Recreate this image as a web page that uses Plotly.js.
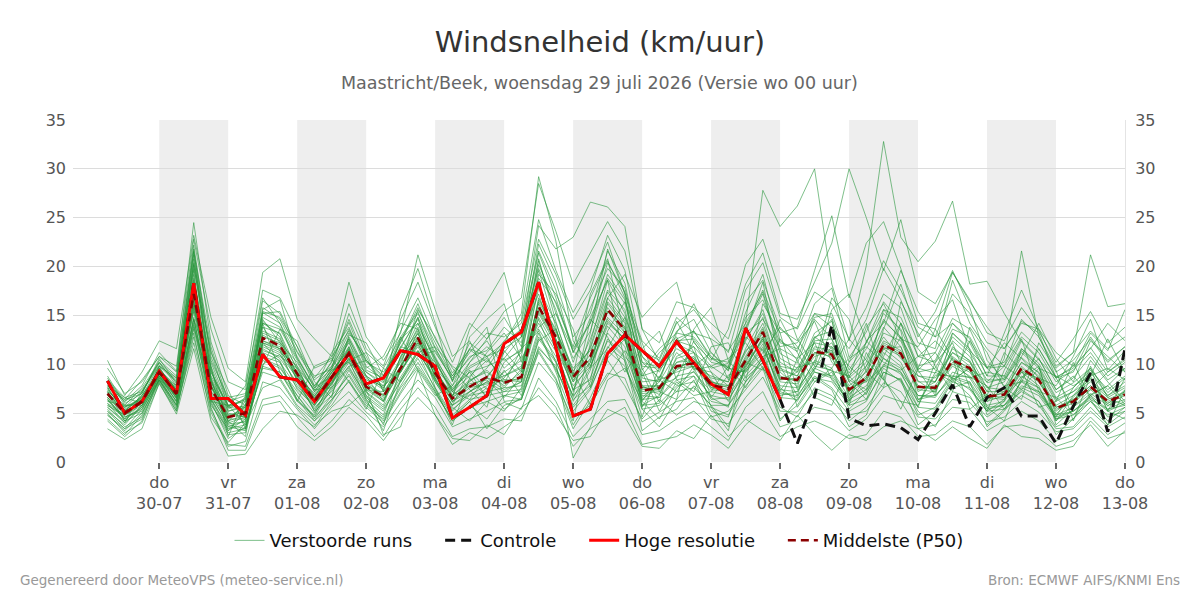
<!DOCTYPE html>
<html>
<head>
<meta charset="utf-8">
<script src="https://cdn.plot.ly/plotly-3.0.1.min.js"></script>
<style>html,body{margin:0;padding:0;background:#fff;}#chart{width:1200px;height:600px;}</style>
</head>
<body>
<div id="chart"></div>
<script>
// ---- data (6-hourly, first value 29-07 06:00) ----
const startTime = '2026-07-29 06:00';
const stepHours = 6;

const hres = [8.3,5.0,6.2,9.3,7.0,18.3,6.5,6.5,4.8,11.0, 8.7,8.4,6.2,8.7,11.1,8.0,8.6,11.4,11.0,9.8, 4.5,5.6,6.8,12.1,13.3,18.4,11.7,4.7,5.4,11.1, 13.0,11.4,9.8,12.3,10.1,8.0,6.9,13.7,10.4,6.4];

const controle = [8.3,5.0,6.2,9.3,7.0,18.3,6.5,6.5,4.8,11.0, 8.7,8.4,6.2,8.7,11.1,8.0,8.6,11.4,11.0,9.8, 4.5,5.6,6.8,12.1,13.3,18.4,11.7,4.7,5.4,11.1, 13.0,11.4,9.8,12.3,10.1,8.0,6.9,13.7,10.4,6.4, 1.9,6.7,14.0,4.5,3.7,3.9,3.5,2.3,5.0,7.9, 3.6,6.6,7.6,4.7,4.7,1.9,5.7,9.1,3.1,11.6];

const mediaan = [7.0,5.0,6.2,9.2,7.0,17.2,7.5,4.6,5.0,12.7, 11.9,9.0,6.2,8.7,11.1,7.7,6.7,9.6,12.7,9.1, 6.5,7.7,8.7,8.1,8.7,15.9,12.8,8.7,10.8,15.6, 13.5,7.3,7.6,9.8,10.1,7.9,7.5,10.4,13.3,8.6, 8.4,11.3,11.0,7.4,8.6,12.0,11.1,7.7,7.6,10.4, 9.6,6.7,6.9,9.6,8.4,5.5,6.2,7.7,6.2,6.9];

const runs = [
[7.4,5.3,6.5,9.6,7.3,18.8,8.2,4.8,5.2,13.4, 12.6,9.6,6.4,9.1,11.8,8.2,6.9,10.4,13.6,9.8, 6.1,8.3,9.4,7.6,9.5,17.8,14.2,9.3,11.6,16.8, 14.4,7.8,6.9,10.6,11.2,8.4,6.8,11.6,14.8,9.2, 7.7,12.4,12.6,6.8,9.4,13.2,12.4,8.3,7.1,11.8, 10.3,6.2,7.6,10.7,9.1,4.9,6.6,8.6,5.7,7.4],
[6.3,4.4,5.6,8.7,6.5,15.4,6.8,3.9,4.1,11.6, 10.6,8.1,5.4,7.6,10.2,7.1,5.6,8.7,11.4,8.4, 5.8,6.9,7.8,9.2,10.4,14.2,11.3,6.6,9.7,13.9, 11.8,6.2,8.8,7.9,9.3,6.6,8.9,9.4,12.1,7.3, 9.7,10.2,9.3,8.8,6.9,11.2,9.8,6.1,8.9,8.8, 8.7,7.8,5.4,8.3,7.2,6.6,4.8,6.9,7.8,5.9],
[8.1,6.2,7.8,11.2,9.3,24.5,12.3,6.8,5.8,15.3, 14.2,10.8,7.6,10.3,14.3,9.8,8.4,12.3,16.2,11.7, 8.3,10.8,11.4,13.8,12.2,22.3,18.4,12.8,15.2,21.6, 18.3,10.2,9.7,13.4,14.6,11.2,9.3,15.3,19.2,12.4, 11.3,16.2,17.8,10.7,13.3,17.2,15.8,10.8,11.2,14.7, 13.6,9.7,10.2,13.3,11.6,8.7,9.6,11.7,9.2,10.6],
[5.4,3.6,4.6,8.3,5.6,12.2,5.1,1.6,2.1,8.2, 7.6,5.4,3.4,5.6,7.2,5.1,3.6,6.1,8.4,6.6, 3.6,4.4,5.2,6.1,5.4,10.2,8.1,3.4,6.2,9.1, 8.6,4.1,5.1,6.2,6.6,4.4,3.9,6.6,8.7,5.2, 5.1,7.2,6.4,4.2,5.6,8.1,7.2,4.6,4.4,6.4, 6.1,4.1,4.6,6.2,5.1,3.1,3.4,5.2,3.6,4.6],
[7.1,5.1,6.1,9.4,7.4,18.1,9.6,4.1,6.2,14.2, 13.1,8.6,5.2,8.1,10.6,9.2,8.1,11.2,13.1,9.6, 7.6,9.2,6.6,10.2,11.6,20.6,15.2,10.6,13.4,19.2, 16.6,9.6,6.1,12.1,11.2,9.6,10.1,13.6,17.2,11.1, 10.1,14.6,12.6,9.1,11.6,15.2,13.6,9.6,9.1,13.2, 11.6,8.1,8.6,11.6,10.1,7.1,8.1,9.6,7.1,8.6],
[6.8,5.6,7.2,10.1,8.2,21.5,10.8,6.2,6.8,16.5, 15.2,11.3,8.8,9.5,13.2,10.8,7.2,9.8,15.6,12.8, 9.1,11.5,10.2,12.4,14.6,24.8,19.6,15.3,18.4,22.5, 17.2,12.4,10.6,14.8,13.2,12.6,11.4,14.2,27.8,24.1, 26.2,30.0,18.2,12.4,20.1,32.8,23.0,20.5,22.6,26.7, 18.2,18.5,15.2,12.3,10.4,8.6,9.8,13.2,11.4,15.6],
[7.6,6.4,8.4,10.8,9.8,22.8,13.6,8.2,7.4,17.6, 16.8,13.2,9.6,10.4,16.2,11.6,9.8,14.6,18.4,13.8, 10.2,14.2,12.6,15.4,16.8,28.5,23.6,18.2,21.4,24.6, 21.6,13.6,12.2,16.4,15.8,14.2,12.6,18.2,21.4,15.2, 14.6,18.4,22.4,30.0,25.0,19.6,24.8,17.4,16.2,19.4, 16.6,13.2,12.4,15.8,13.4,10.2,12.6,15.4,12.2,13.8],
[6.6,4.8,6.4,9.0,6.8,16.2,8.8,5.8,5.6,12.2, 11.4,7.4,5.8,8.4,12.6,8.8,7.6,10.2,13.8,10.6, 6.8,8.2,9.6,12.2,15.2,29.2,22.6,12.4,9.8,14.2, 12.6,6.4,7.8,8.6,12.4,9.2,6.2,9.6,12.8,7.6, 6.2,9.4,13.6,8.2,6.4,10.8,14.2,9.4,6.8,8.6, 7.4,5.2,6.4,9.2,7.8,4.2,5.8,10.4,8.2,6.2],
[4.8,3.2,5.0,8.4,6.0,13.6,6.2,2.4,3.6,9.6, 9.2,6.8,4.6,6.4,9.0,6.2,4.2,7.2,10.2,7.2, 4.2,5.8,4.4,6.8,7.2,11.6,9.8,5.2,7.4,11.8, 10.4,3.2,4.6,5.4,7.8,5.8,3.6,8.2,10.6,4.4, 5.8,8.6,7.4,3.6,4.8,9.2,8.4,3.8,5.2,7.6, 8.2,3.6,5.2,7.4,6.2,2.8,4.4,6.8,4.6,5.2],
[10.4,6.8,9.2,12.4,11.6,23.2,14.8,9.6,8.2,19.4, 20.8,14.6,12.6,10.8,18.4,12.8,10.4,13.2,21.2,15.6, 10.8,12.4,8.6,11.2,13.4,19.8,15.6,10.2,14.8,18.6, 15.2,8.8,9.4,11.6,10.6,8.6,8.2,12.4,15.6,10.2, 9.2,13.2,14.4,8.6,10.2,14.6,12.6,8.8,8.2,12.4, 10.8,7.6,8.2,11.2,9.6,6.4,7.2,9.2,6.8,8.2],
[3.4,2.3,3.4,8.1,4.9,11.6,4.2,0.6,0.8,3.4, 5.2,4.8,3.6,6.2,9.4,6.4,3.2,8.4,11.2,7.4, 4.6,6.2,7.6,5.4,6.6,12.6,10.2,0.4,3.6,8.4, 9.6,6.2,4.4,7.6,8.8,5.2,4.6,9.8,12.4,6.8, 7.2,10.4,9.6,5.4,7.2,11.6,10.2,6.4,7.4,9.8, 8.8,6.2,6.8,8.4,7.6,4.4,5.2,6.4,5.4,6.2],
[5.8,4.6,5.2,8.8,6.2,14.6,6.6,3.2,4.4,10.8, 10.2,7.6,5.6,7.2,9.6,6.8,5.4,8.2,11.2,8.6, 5.2,7.2,8.2,8.8,9.6,16.2,12.2,7.4,10.2,15.4, 13.8,7.2,7.4,9.6,10.4,7.4,7.2,10.2,13.4,8.8, 8.2,11.6,10.6,7.6,8.2,12.2,11.2,7.8,7.4,10.2, 9.4,6.8,6.6,9.8,8.2,5.6,6.4,7.8,6.4,7.2],
[7.8,6.2,7.4,9.9,8.4,20.4,11.4,5.6,6.4,15.8, 14.6,11.2,8.4,9.8,13.6,10.2,9.2,11.6,14.8,11.2, 8.6,10.6,12.4,9.6,11.2,18.8,16.4,11.8,16.8,20.6, 16.8,9.4,11.6,13.2,12.8,10.6,9.6,16.4,18.6,13.6, 12.4,15.2,13.8,11.6,14.6,19.8,16.6,12.2,11.6,18.6, 14.2,11.6,9.8,14.6,12.8,9.2,10.4,12.6,10.2,11.8],
[4.2,2.6,4.2,8.6,5.8,14.2,5.4,1.8,1.6,6.4, 6.8,4.6,2.6,4.2,6.4,4.8,2.6,5.4,7.6,5.6, 2.6,3.4,3.6,4.4,4.2,8.6,6.2,2.6,4.4,6.2, 6.4,2.8,3.2,4.4,5.2,3.6,2.2,5.6,7.2,3.6, 4.2,5.6,5.2,3.2,4.4,6.8,6.2,3.4,3.8,5.6, 5.4,3.2,4.2,5.2,4.2,2.2,2.8,4.6,2.8,4.0],
[8.6,5.8,7.6,10.2,7.8,19.2,7.2,5.6,5.4,14.6, 12.2,10.2,7.2,9.4,11.4,8.6,7.4,12.6,14.2,10.4, 7.2,9.6,10.6,8.4,8.2,16.6,13.6,8.6,12.6,17.6, 15.6,8.6,8.2,11.2,9.6,9.2,7.8,11.2,14.2,9.6, 8.8,12.8,11.6,7.2,9.8,13.8,11.8,7.2,8.2,11.2, 9.8,7.2,7.2,10.2,8.8,5.8,6.8,8.2,6.6,7.6],
[6.6,5.2,6.8,9.2,7.6,17.6,7.8,4.4,5.8,12.4, 11.8,9.2,6.8,9.2,10.8,8.8,6.2,10.8,12.8,9.4, 6.6,12.8,14.6,16.2,10.2,14.6,10.2,6.8,14.6,12.8, 9.2,11.6,13.4,8.4,7.2,11.8,12.2,8.6,10.2,14.6, 11.2,8.2,9.6,12.6,10.4,8.4,14.2,11.6,9.4,8.6, 12.4,9.6,7.8,8.2,11.6,8.6,5.6,7.4,9.2,10.4],
[5.2,3.8,5.8,8.9,6.6,16.4,6.4,3.6,3.2,11.2, 10.4,6.2,4.8,8.6,10.4,6.4,4.8,9.4,12.2,8.2, 5.6,4.2,6.2,5.2,7.6,13.2,9.2,4.6,5.8,10.6, 12.6,5.4,3.6,6.4,8.4,4.6,5.2,7.4,9.6,4.2, 6.4,8.8,7.6,5.2,6.2,9.6,8.2,5.2,3.6,7.2, 6.6,4.6,5.8,7.2,6.2,3.6,4.4,6.2,4.2,5.6],
[7.2,4.2,6.2,9.6,6.4,16.8,8.6,3.2,5.2,12.8, 12.2,8.4,5.2,6.8,11.6,7.4,7.2,9.2,12.4,8.8, 7.2,6.4,8.8,10.6,8.6,18.4,12.6,7.4,8.4,16.4, 14.2,5.6,8.6,12.6,9.6,6.4,6.6,12.8,11.4,6.2, 10.6,12.2,8.4,6.2,12.4,10.6,9.2,5.6,10.2,12.2, 7.6,5.2,9.4,12.6,7.2,4.6,7.6,9.6,5.2,8.6],
[7.8,5.6,6.6,9.2,7.4,20.8,9.8,5.4,6.6,14.8, 13.8,10.6,7.6,8.8,12.8,9.4,8.6,12.8,15.4,10.8, 7.4,9.8,10.8,11.6,12.8,21.4,16.8,11.2,14.2,20.4, 17.4,10.2,8.6,12.4,12.6,10.2,9.8,14.2,17.4,11.6, 10.6,15.2,14.8,9.4,12.2,16.4,14.2,9.8,10.4,14.2, 12.6,8.8,8.8,12.4,10.6,7.4,8.6,10.8,8.4,9.6],
[6.4,4.6,5.4,8.6,6.2,14.8,5.8,3.4,3.8,10.4, 9.6,7.2,5.0,7.4,9.8,6.6,5.2,8.4,11.4,8.2, 5.4,6.8,7.2,7.6,7.8,13.6,10.8,6.8,8.6,13.2, 11.2,6.4,6.6,8.4,8.8,6.8,6.4,9.2,11.6,7.8, 7.6,9.8,9.4,6.6,7.8,10.6,9.6,6.8,6.6,9.2, 8.6,5.8,6.2,8.8,7.6,4.8,5.6,7.0,5.8,6.4],
[6.2,5.8,6.0,9.0,7.0,17.8,8.4,5.0,4.6,12.0, 11.2,9.8,6.0,8.0,11.4,8.0,6.6,9.8,12.6,9.2, 6.6,8.0,8.4,6.6,8.8,15.6,12.4,8.2,10.2,15.8, 13.6,7.6,7.8,10.2,10.8,8.2,7.8,10.6,13.6,8.4, 9.2,11.0,12.2,8.4,7.4,13.6,18.2,12.8,15.4,19.6, 15.8,10.4,8.4,10.8,14.2,10.6,8.2,12.4,10.8,9.2],
[7.6,5.0,6.4,9.6,7.4,18.4,7.6,4.6,5.2,13.2, 12.4,9.0,6.4,9.2,11.6,7.8,6.8,9.8,13.2,9.4, 6.8,8.4,9.2,7.8,9.2,16.4,13.2,8.8,11.0,16.2, 13.8,7.6,7.4,10.2,10.4,8.2,7.6,10.8,13.8,9.4, 8.8,11.8,11.4,7.8,9.2,12.4,11.4,8.2,8.2,11.6, 10.4,7.2,10.6,21.6,12.8,9.6,11.2,21.2,15.9,16.2],
[5.6,4.0,5.6,8.8,6.6,15.8,7.0,4.2,4.8,11.8, 11.0,8.6,6.6,8.4,10.6,7.6,6.4,9.2,12.0,9.0, 6.2,7.6,8.0,8.4,8.4,15.2,12.0,9.0,10.4,14.8, 13.0,7.0,7.2,9.6,9.8,7.6,7.2,10.0,12.6,8.2, 8.0,11.2,10.8,7.0,8.4,11.8,10.8,7.6,7.6,10.0, 9.2,6.6,6.4,9.4,8.2,5.4,6.0,7.6,6.0,6.8],
[6.0,4.8,5.8,8.4,5.4,13.2,4.6,2.0,4.0,9.2, 8.6,5.8,4.2,5.8,8.4,5.6,4.0,7.0,9.6,7.0, 4.4,6.2,3.4,5.8,6.4,11.4,8.6,3.8,6.6,10.4, 7.8,4.4,6.4,4.8,6.2,5.6,4.8,7.8,9.8,5.6, 4.6,7.6,6.8,4.8,5.2,7.6,8.6,4.8,5.6,8.4, 6.8,3.8,5.4,6.8,5.8,3.4,3.6,5.6,3.8,5.2],
[8.2,6.4,7.0,10.4,8.8,22.2,10.4,6.6,7.0,15.4, 14.8,11.8,8.6,10.8,13.4,10.4,8.8,12.2,15.8,12.2, 8.8,11.2,13.2,12.8,14.2,22.8,19.2,14.6,17.6,23.2, 19.6,11.4,10.4,14.2,15.6,13.2,11.2,17.6,20.4,14.8, 13.6,17.4,16.2,12.6,15.8,20.6,17.6,13.8,12.8,17.2, 15.2,12.2,11.6,14.2,13.6,9.8,11.2,13.4,11.6,12.8],
[5.0,3.0,4.0,8.0,5.2,12.8,5.6,1.2,1.2,5.8, 6.2,3.6,2.2,3.6,5.6,4.2,2.2,4.6,6.6,4.8, 1.8,3.0,2.4,3.6,4.8,7.6,5.6,1.6,3.4,4.6, 5.6,1.8,2.2,2.6,3.8,2.8,1.4,3.8,5.4,2.6, 3.6,4.2,3.4,2.4,2.8,5.2,4.6,2.6,2.8,4.2, 3.6,1.8,3.6,3.8,3.2,1.6,2.2,3.8,1.6,3.2],
[6.8,5.2,6.2,9.4,7.2,17.4,7.8,4.6,5.6,13.0, 12.0,8.8,6.2,8.8,11.4,8.0,6.8,9.6,12.8,9.2, 6.6,7.8,8.6,8.2,8.6,15.8,12.6,8.4,10.6,15.4, 13.2,7.4,7.6,9.8,10.2,7.8,7.4,10.4,13.2,8.6, 8.4,11.2,11.2,7.4,8.6,12.0,11.0,7.6,7.8,10.6, 9.6,6.8,7.0,9.6,8.4,5.6,6.2,7.8,6.2,7.0],
[7.2,4.8,6.0,9.0,6.8,16.6,6.0,2.8,3.0,10.0, 11.0,7.8,5.8,8.0,10.4,11.2,9.6,8.2,10.8,11.4, 8.4,12.2,10.8,8.0,11.6,13.4,9.4,6.4,7.8,12.6, 10.8,8.8,11.2,12.8,9.4,9.8,10.6,12.2,9.6,7.2, 6.6,9.6,11.8,9.8,8.2,9.8,12.8,9.4,11.2,8.4, 9.6,8.2,9.8,8.6,10.6,7.4,8.8,6.8,7.8,9.6],
[7.4,5.4,6.6,9.2,7.2,18.0,8.6,5.2,5.8,13.8, 13.2,9.4,6.6,9.6,12.2,8.8,7.6,10.6,14.2,10.2, 7.4,9.2,9.8,10.6,12.8,24.2,21.8,23.0,26.6,26.1, 24.1,13.6,10.2,12.4,11.8,9.8,8.6,12.6,15.2,10.6, 9.6,12.8,13.4,8.8,10.6,14.4,12.8,9.2,9.6,12.8, 11.2,8.4,8.4,11.4,9.8,6.6,7.6,9.4,7.4,8.8],
[5.6,4.2,5.0,8.4,5.8,14.0,6.4,3.0,3.4,10.6, 9.8,6.8,4.4,6.8,8.8,6.0,4.6,7.8,10.6,7.6, 4.8,6.4,6.8,7.2,7.4,12.8,10.4,5.8,8.2,12.4, 10.6,5.8,6.0,7.8,8.2,6.2,5.8,8.8,10.8,7.0, 6.8,9.2,8.6,6.0,7.0,10.0,9.0,6.2,6.0,8.6, 8.0,5.4,5.8,8.2,7.0,4.6,5.2,6.6,5.2,6.0],
[6.0,4.0,7.2,9.8,8.6,19.8,11.2,7.4,3.4,9.8, 13.6,12.4,8.2,6.6,13.0,12.2,8.8,13.4,16.8,12.6, 9.6,7.4,5.6,11.4,9.2,19.2,17.2,13.6,7.6,13.4, 16.4,12.2,7.2,6.4,13.6,15.8,10.4,8.2,16.2,13.2, 7.4,10.2,16.8,14.6,9.2,7.6,16.4,13.2,9.8,7.2, 13.8,11.2,7.6,6.4,12.2,9.4,4.2,8.8,12.6,9.2],
[7.8,6.6,6.0,8.8,6.2,14.6,9.8,2.6,6.8,14.2, 9.2,6.2,9.8,10.6,8.2,5.4,9.6,12.8,9.4,6.8, 7.8,11.6,13.8,6.2,6.4,11.2,8.4,4.2,12.2,18.6, 10.2,4.6,9.8,14.4,11.2,5.6,3.2,10.2,9.4,12.6, 10.4,6.6,5.8,10.2,14.2,8.6,5.4,9.6,13.6,10.6, 5.4,6.8,11.2,9.4,5.6,6.2,10.2,6.4,3.8,7.4],
[9.6,7.0,8.2,10.8,9.2,21.8,8.4,3.6,4.2,15.6, 16.6,10.6,7.8,9.6,15.2,11.2,7.2,15.4,19.8,14.2, 8.2,13.6,16.4,19.4,12.8,17.2,11.6,6.2,9.4,16.8, 19.2,14.8,16.8,18.4,12.2,10.4,13.6,20.2,22.8,17.4, 12.6,9.8,15.6,17.2,12.4,14.2,19.6,15.4,12.8,14.2, 12.2,8.8,13.2,17.6,13.6,11.2,9.8,11.6,14.2,12.4],
[4.4,2.8,4.8,8.5,6.8,15.6,9.2,5.8,3.8,7.6, 8.4,5.6,3.8,5.2,5.8,7.4,2.8,3.6,9.4,4.8, 2.4,2.2,3.8,2.8,5.6,6.8,4.8,2.2,2.6,5.4, 4.6,1.6,1.4,3.2,2.4,4.8,2.6,4.4,3.2,2.2, 4.8,2.8,1.2,2.8,2.2,3.6,4.2,3.4,2.2,3.6, 2.4,1.4,3.8,2.6,2.4,1.2,1.6,4.2,2.4,3.0],
[8.8,6.0,7.0,10.6,8.0,20.2,9.2,5.6,7.8,16.8, 14.2,9.8,7.4,11.2,13.8,9.6,10.8,14.2,13.6,9.2, 6.8,10.2,12.6,14.8,11.8,20.8,14.4,8.8,17.2,20.8, 12.8,6.6,8.2,13.2,16.2,12.4,8.4,13.2,14.6,11.8, 12.2,14.4,10.2,8.6,13.8,16.2,12.6,11.8,14.6,16.6, 11.4,9.6,12.2,10.6,8.6,7.8,10.8,14.6,9.4,11.4],
[5.2,3.4,4.4,8.2,5.2,13.8,7.8,4.2,2.6,12.2, 10.2,6.4,4.6,7.8,11.8,6.8,3.8,9.6,13.4,7.6, 3.8,8.6,6.6,9.4,6.8,12.4,13.6,9.2,5.8,8.8, 11.4,9.2,5.2,8.2,6.8,7.2,9.8,7.6,10.8,11.6, 5.6,8.2,9.2,5.8,11.2,8.4,6.2,5.8,9.2,8.2, 9.8,5.6,4.2,8.6,9.8,4.2,6.8,8.8,5.2,4.4],
[6.4,4.4,6.8,9.4,7.8,21.2,8.0,4.0,4.6,14.4, 12.8,8.2,6.8,8.6,12.4,7.2,5.8,10.8,14.8,8.4, 5.8,9.4,7.4,8.6,10.8,19.6,13.8,7.2,13.2,21.8, 17.2,5.8,6.8,10.8,11.8,6.6,5.6,13.2,18.4,9.8, 6.8,12.6,14.6,6.2,8.6,15.6,13.4,6.4,6.8,13.2, 11.4,4.8,6.2,11.6,9.8,3.8,5.4,9.8,6.6,5.8],
[7.0,5.6,6.4,9.0,7.6,19.6,6.2,5.8,6.2,13.8, 11.4,8.8,7.0,9.4,10.2,8.4,7.8,9.2,12.2,10.2, 7.2,8.8,10.4,8.8,9.8,15.4,12.2,8.2,11.8,17.4, 14.8,8.2,8.4,9.2,9.8,8.8,8.2,11.4,12.8,9.8, 9.4,12.2,11.8,8.2,9.8,12.8,10.6,8.8,8.6,11.2, 10.2,7.6,7.4,10.2,9.2,6.2,7.2,8.4,6.8,7.8],
[6.6,4.2,5.8,9.8,6.6,16.0,8.2,4.8,4.6,12.4, 11.6,9.2,6.2,8.2,11.2,7.6,6.2,9.8,12.6,8.8, 6.2,7.2,8.6,7.4,8.2,16.8,13.4,9.6,11.4,14.6, 12.4,7.8,7.8,9.4,10.6,7.6,7.8,9.8,12.6,8.4, 8.6,10.8,11.4,7.2,8.8,11.6,11.8,7.4,7.2,10.8, 9.4,6.4,7.2,9.2,8.6,5.2,6.4,7.4,6.0,7.2],
[5.8,4.8,6.4,8.8,6.8,17.0,7.2,4.4,4.4,12.2, 11.6,8.4,5.8,8.2,10.6,7.4,6.2,9.4,11.8,8.6, 5.8,7.2,8.2,7.2,8.2,14.8,11.6,7.8,9.8,14.4, 12.6,6.8,6.6,8.8,9.2,7.2,6.8,9.4,11.8,7.4, 7.2,9.6,8.8,6.4,7.4,9.8,9.2,6.8,6.8,8.8, 8.2,5.6,5.8,7.8,7.2,4.8,5.2,6.8,5.4,5.8],
[7.2,5.8,5.8,9.0,7.8,18.6,10.2,5.8,6.4,11.4, 10.8,9.6,7.4,7.6,9.8,10.4,8.6,11.8,11.2,11.8, 9.8,8.6,11.2,13.2,10.6,13.8,15.2,11.4,9.6,11.6, 14.8,10.8,8.4,7.2,9.8,11.2,9.6,9.2,11.2,13.8, 11.8,9.2,8.8,10.6,11.8,10.2,9.4,10.8,12.4,10.4, 8.6,9.2,8.8,7.4,9.6,8.8,7.8,8.8,9.6,8.4],
[7.6,5.2,6.8,9.8,8.2,20.2,9.4,5.2,5.6,14.2, 13.6,10.4,7.2,9.8,12.6,9.2,7.8,11.8,14.6,10.6, 7.8,10.2,11.8,10.4,11.4,20.2,16.2,11.6,14.2,18.8, 16.2,9.8,9.6,12.2,13.4,10.8,9.4,13.8,17.6,13.2, 13.8,19.6,25.2,16.8,22.4,24.6,19.8,14.2,13.6,19.4, 16.4,13.8,11.6,14.4,13.2,8.6,9.2,12.8,10.4,11.8],
[4.8,3.4,5.4,8.4,5.8,14.6,6.8,3.8,3.4,9.8, 9.2,6.4,4.2,6.4,8.2,5.8,4.4,7.6,9.8,7.2, 4.2,5.6,6.2,6.8,6.4,11.8,9.6,5.6,7.6,11.4, 9.8,5.4,5.8,7.2,7.6,5.8,5.8,8.2,10.2,6.6, 6.4,8.6,8.2,5.8,6.4,9.2,8.4,5.6,5.4,8.2, 7.6,5.2,5.4,7.6,6.8,4.4,4.8,6.2,4.8,5.6],
[8.4,6.6,7.2,10.2,8.6,21.6,11.8,6.2,5.2,15.2, 15.4,11.8,7.8,10.2,14.6,10.4,8.2,12.6,15.2,11.6, 8.8,11.6,10.8,12.2,13.6,21.6,17.6,11.2,15.8,19.8, 17.8,10.8,9.2,12.6,13.4,10.6,10.2,14.8,16.6,12.2, 11.6,14.8,15.2,10.2,12.2,15.6,14.8,10.8,10.2,13.6, 12.8,9.6,9.8,12.8,11.2,8.2,9.4,11.2,8.8,10.2]
];

const dayTicks = ['2026-07-30','2026-07-31','2026-08-01','2026-08-02','2026-08-03','2026-08-04','2026-08-05','2026-08-06','2026-08-07','2026-08-08','2026-08-09','2026-08-10','2026-08-11','2026-08-12','2026-08-13'];
const dayNames = ['do','vr','za','zo','ma','di','wo','do','vr','za','zo','ma','di','wo','do'];
const dayDates = ['30-07','31-07','01-08','02-08','03-08','04-08','05-08','06-08','07-08','08-08','09-08','10-08','11-08','12-08','13-08'];
const shadedDays = ['2026-07-30','2026-08-01','2026-08-03','2026-08-05','2026-08-07','2026-08-09','2026-08-11'];
const xRange = ['2026-07-28 18:00','2026-08-13 00:00'];

// ---- helpers ----
function pad(n){return (n<10?'0':'')+n;}
function fmt(d){return d.getUTCFullYear()+'-'+pad(d.getUTCMonth()+1)+'-'+pad(d.getUTCDate())+' '+pad(d.getUTCHours())+':'+pad(d.getUTCMinutes());}
const t0 = new Date(startTime.replace(' ','T')+':00Z').getTime();
function timesFor(n){const a=[];for(let i=0;i<n;i++){a.push(fmt(new Date(t0+i*stepHours*3600000)));}return a;}
function addDay(s){const d=new Date(s+'T00:00:00Z');d.setUTCDate(d.getUTCDate()+1);return fmt(d).slice(0,10);}

const FONT = 'DejaVu Sans, Verdana, sans-serif';
const GAP = '\u00a0\u00a0\u00a0\u00a0';
const traces = [];
runs.forEach((r, k) => {
  traces.push({
    x: timesFor(r.length), y: r, type: 'scatter', mode: 'lines',
    line: {color: 'rgba(40,150,60,0.6)', width: 1},
    name: 'Verstoorde runs' + GAP, legendgroup: 'runs', showlegend: k === 0,
    hoverinfo: 'skip'
  });
});
traces.push({x: timesFor(controle.length), y: controle, type:'scatter', mode:'lines',
  line:{color:'#111', width:3, dash:'10px,6px'}, name:'Controle' + GAP});
traces.push({x: timesFor(hres.length), y: hres, type:'scatter', mode:'lines',
  line:{color:'#ff0000', width:3}, name:'Hoge resolutie' + GAP});
traces.push({x: timesFor(mediaan.length), y: mediaan, type:'scatter', mode:'lines',
  line:{color:'#8b0000', width:2.5, dash:'8px,5px'}, name:'Middelste (P50)'});
// invisible trace on right axis so it is drawn
traces.push({x: [xRange[0]], y: [0], yaxis:'y2', type:'scatter', mode:'markers',
  marker:{opacity:0}, showlegend:false, hoverinfo:'skip'});

const shapes = shadedDays.map(d => ({
  type:'rect', xref:'x', yref:'paper', x0:d, x1:addDay(d), y0:0, y1:1,
  fillcolor:'#eeeeee', line:{width:0}, layer:'below'
}));

const layout = {
  width:1200, height:600,
  paper_bgcolor:'#fff', plot_bgcolor:'#fff',
  font:{family:FONT, color:'#555', size:16},
  margin:{l:73, r:75, t:120, b:138},
  title:{text:'Windsnelheid (km/uur)', font:{family:FONT, size:29, color:'#333'}, x:0.5, xanchor:'center', y:0.93, yanchor:'middle'},
  xaxis:{type:'date', range:xRange, tickvals:dayTicks,
    ticktext:dayTicks.map((d,i)=>dayNames[i]+'<br>'+dayDates[i]),
    showgrid:false, zeroline:false, showline:false,
    ticks:'outside', ticklen:6, tickwidth:2, tickcolor:'#666',
    tickfont:{family:FONT, size:16, color:'#555'}},
  yaxis:{range:[0,35], dtick:5, tick0:0, showgrid:true, gridcolor:'#dcdcdc', gridwidth:1,
    zeroline:false, showline:false, ticks:'', ticklabelstandoff:6,
    tickfont:{family:FONT, size:16, color:'#555'}, fixedrange:true},
  yaxis2:{range:[0,35], dtick:5, tick0:0, overlaying:'y', side:'right', showgrid:false,
    zeroline:false, showline:true, linecolor:'#e4e4e4', linewidth:1, ticks:'', ticklabelstandoff:6,
    tickfont:{family:FONT, size:16, color:'#555'}},
  legend:{orientation:'h', x:0.5, xanchor:'center', y:-0.23, yanchor:'middle',
    font:{family:FONT, size:18, color:'#111'}, bgcolor:'rgba(0,0,0,0)'},
  shapes: shapes,
  annotations:[
    {text:'Maastricht/Beek, woensdag 29 juli 2026 (Versie wo 00 uur)', xref:'paper', yref:'paper',
     x:0.5, y:1.0+ (120-83)/342, xanchor:'center', yanchor:'middle', showarrow:false,
     font:{family:FONT, size:17.5, color:'#666'}},
    {text:'Gegenereerd door MeteoVPS (meteo-service.nl)', xref:'paper', yref:'paper',
     x:-(73-18)/1052, y:-(580-462)/342, xanchor:'left', yanchor:'middle', showarrow:false,
     font:{family:FONT, size:13.5, color:'#999'}},
    {text:'Bron: ECMWF AIFS/KNMI Ens', xref:'paper', yref:'paper',
     x:1+(1182-1125)/1052, y:-(580-462)/342, xanchor:'right', yanchor:'middle', showarrow:false,
     font:{family:FONT, size:13.5, color:'#999'}}
  ],
  showlegend:true
};

Plotly.newPlot('chart', traces, layout, {displayModeBar:false, staticPlot:true});
</script>
</body>
</html>
